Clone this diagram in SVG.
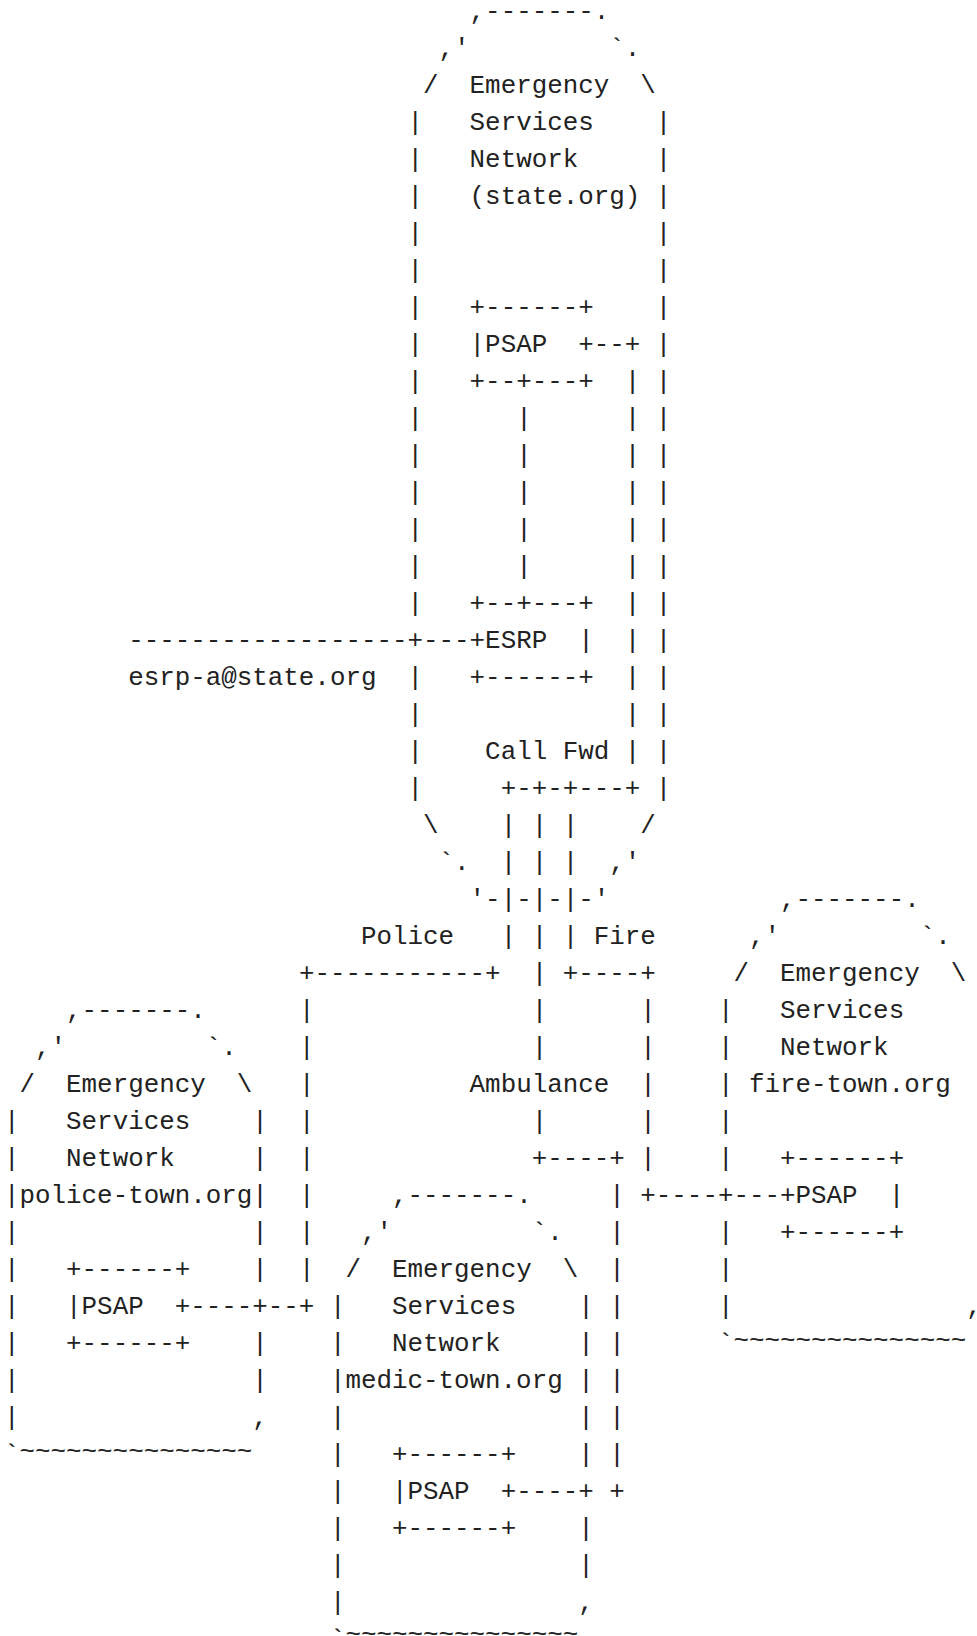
<svg xmlns="http://www.w3.org/2000/svg" width="977" height="1636" viewBox="0 0 977 1636" xml:space="preserve">
  <style>
    /* one monospace grid: column c starts at x = 4 + 15.52*c, row n baseline at 18.5 + 37*(n-1) */
    text { font-family: "Liberation Mono", "DejaVu Sans Mono", monospace; font-size: 25.87px; fill: #222; white-space: pre; }
    .tl { /* tilde rows sit a little higher */ }
  </style>
  <rect width="977" height="1636" fill="#fff"/>

  <!-- Emergency Services Network (state.org) -->
  <g id="net-state">
    <text x="469.6" y="18.5">,-------.</text>
    <text x="438.56" y="55.5">,'</text><text x="609.28" y="55.5">`.</text>
    <text x="423.04" y="92.5">/</text><text x="469.6" y="92.5">Emergency</text><text x="640.32" y="92.5">\</text>
    <text x="407.52" y="129.5">|</text><text x="469.6" y="129.5">Services</text><text x="655.84" y="129.5">|</text>
    <text x="407.52" y="166.5">|</text><text x="469.6" y="166.5">Network</text><text x="655.84" y="166.5">|</text>
    <text x="407.52" y="203.5">|</text><text x="469.6" y="203.5">(state.org)</text><text x="655.84" y="203.5">|</text>
    <text x="407.52" y="240.5">|</text><text x="655.84" y="240.5">|</text>
    <text x="407.52" y="277.5">|</text><text x="655.84" y="277.5">|</text>
    <text x="407.52" y="314.5">|</text><text x="655.84" y="314.5">|</text>
    <text x="407.52" y="351.5">|</text><text x="655.84" y="351.5">|</text>
    <text x="407.52" y="388.5">|</text><text x="655.84" y="388.5">|</text>
    <text x="407.52" y="425.5">|</text><text x="655.84" y="425.5">|</text>
    <text x="407.52" y="462.5">|</text><text x="655.84" y="462.5">|</text>
    <text x="407.52" y="499.5">|</text><text x="655.84" y="499.5">|</text>
    <text x="407.52" y="536.5">|</text><text x="655.84" y="536.5">|</text>
    <text x="407.52" y="573.5">|</text><text x="655.84" y="573.5">|</text>
    <text x="407.52" y="610.5">|</text><text x="655.84" y="610.5">|</text>
    <text x="655.84" y="647.5">|</text>
    <text x="407.52" y="684.5">|</text><text x="655.84" y="684.5">|</text>
    <text x="407.52" y="721.5">|</text><text x="655.84" y="721.5">|</text>
    <text x="407.52" y="758.5">|</text><text x="655.84" y="758.5">|</text>
    <text x="407.52" y="795.5">|</text><text x="655.84" y="795.5">|</text>
    <text x="423.04" y="832.5">\</text><text x="640.32" y="832.5">/</text>
    <text x="438.56" y="869.5">`.</text><text x="609.28" y="869.5">,'</text>
    <text x="469.6" y="906.5">'-</text><text x="516.16" y="906.5">-</text><text x="547.2" y="906.5">-</text><text x="578.24" y="906.5">-'</text>
  </g>

  <!-- PSAP in state.org -->
  <g id="psap-state">
    <text x="469.6" y="314.5">+------+</text>
    <text x="469.6" y="351.5">|PSAP  +</text>
    <text x="469.6" y="388.5">+--+---+</text>
  </g>

  <!-- ESRP -->
  <g id="esrp">
    <text x="469.6" y="610.5">+--+---+</text>
    <text x="469.6" y="647.5">+ESRP  |</text>
    <text x="469.6" y="684.5">+------+</text>
  </g>

  <!-- Emergency Services Network police-town.org -->
  <g id="net-police">
    <text x="66.08" y="1017.5">,-------.</text>
    <text x="35.04" y="1054.5">,'</text><text x="205.76" y="1054.5">`.</text>
    <text x="19.52" y="1091.5">/</text><text x="66.08" y="1091.5">Emergency</text><text x="236.8" y="1091.5">\</text>
    <text x="4" y="1128.5">|</text><text x="66.08" y="1128.5">Services</text><text x="252.32" y="1128.5">|</text>
    <text x="4" y="1165.5">|</text><text x="66.08" y="1165.5">Network</text><text x="252.32" y="1165.5">|</text>
    <text x="4" y="1202.5">|police-town.org|</text>
    <text x="4" y="1239.5">|</text><text x="252.32" y="1239.5">|</text>
    <text x="4" y="1276.5">|</text><text x="252.32" y="1276.5">|</text>
    <text x="4" y="1313.5">|</text>
    <text x="4" y="1350.5">|</text><text x="252.32" y="1350.5">|</text>
    <text x="4" y="1387.5">|</text><text x="252.32" y="1387.5">|</text>
    <text x="4" y="1424.5">|</text><text x="252.32" y="1424.5">,</text>
    <text x="4" y="1461.5">`</text><text x="19.52" y="1458.5">~~~~~~~~~~~~~~~</text>
  </g>

  <!-- PSAP in police-town.org -->
  <g id="psap-police">
    <text x="66.08" y="1276.5">+------+</text>
    <text x="66.08" y="1313.5">|PSAP  +</text>
    <text x="66.08" y="1350.5">+------+</text>
  </g>

  <!-- Emergency Services Network fire-town.org -->
  <g id="net-fire">
    <text x="780" y="906.5">,-------.</text>
    <text x="748.96" y="943.5">,'</text><text x="919.68" y="943.5">`.</text>
    <text x="733.44" y="980.5">/</text><text x="780" y="980.5">Emergency</text><text x="950.72" y="980.5">\</text>
    <text x="717.92" y="1017.5">|</text><text x="780" y="1017.5">Services</text>
    <text x="717.92" y="1054.5">|</text><text x="780" y="1054.5">Network</text>
    <text x="717.92" y="1091.5">|</text><text x="748.96" y="1091.5">fire-town.org</text>
    <text x="717.92" y="1128.5">|</text>
    <text x="717.92" y="1165.5">|</text>
    <text x="717.92" y="1239.5">|</text>
    <text x="717.92" y="1276.5">|</text>
    <text x="717.92" y="1313.5">|</text><text x="966.24" y="1313.5">,</text>
    <text x="717.92" y="1350.5">`</text><text x="733.44" y="1347.5">~~~~~~~~~~~~~~~</text>
  </g>

  <!-- PSAP in fire-town.org -->
  <g id="psap-fire">
    <text x="780" y="1165.5">+------+</text>
    <text x="780" y="1202.5">+PSAP  |</text>
    <text x="780" y="1239.5">+------+</text>
  </g>

  <!-- Emergency Services Network medic-town.org -->
  <g id="net-medic">
    <text x="392" y="1202.5">,-------.</text>
    <text x="360.96" y="1239.5">,'</text><text x="531.68" y="1239.5">`.</text>
    <text x="345.44" y="1276.5">/</text><text x="392" y="1276.5">Emergency</text><text x="562.72" y="1276.5">\</text>
    <text x="329.92" y="1313.5">|</text><text x="392" y="1313.5">Services</text><text x="578.24" y="1313.5">|</text>
    <text x="329.92" y="1350.5">|</text><text x="392" y="1350.5">Network</text><text x="578.24" y="1350.5">|</text>
    <text x="329.92" y="1387.5">|medic-town.org |</text>
    <text x="329.92" y="1424.5">|</text><text x="578.24" y="1424.5">|</text>
    <text x="329.92" y="1461.5">|</text><text x="578.24" y="1461.5">|</text>
    <text x="329.92" y="1498.5">|</text>
    <text x="329.92" y="1535.5">|</text><text x="578.24" y="1535.5">|</text>
    <text x="329.92" y="1572.5">|</text><text x="578.24" y="1572.5">|</text>
    <text x="329.92" y="1609.5">|</text><text x="578.24" y="1609.5">,</text>
    <text x="329.92" y="1646.5">`</text><text x="345.44" y="1641.5">~~~~~~~~~~~~~~~</text>
  </g>

  <!-- PSAP in medic-town.org -->
  <g id="psap-medic">
    <text x="392" y="1461.5">+------+</text>
    <text x="392" y="1498.5">|PSAP  +</text>
    <text x="392" y="1535.5">+------+</text>
  </g>

  <!-- connectors and their labels -->
  <g id="connectors">
    <!-- PSAP (state.org) to the call forwarding bundle -->
    <text x="593.76" y="351.5">--+</text>
    <text x="624.8" y="388.5">|</text>
    <text x="624.8" y="425.5">|</text>
    <text x="624.8" y="462.5">|</text>
    <text x="624.8" y="499.5">|</text>
    <text x="624.8" y="536.5">|</text>
    <text x="624.8" y="573.5">|</text>
    <text x="624.8" y="610.5">|</text>
    <text x="624.8" y="647.5">|</text>
    <text x="624.8" y="684.5">|</text>
    <text x="624.8" y="721.5">|</text>
    <text x="624.8" y="758.5">|</text>
    <!-- PSAP to ESRP -->
    <text x="516.16" y="425.5">|</text>
    <text x="516.16" y="462.5">|</text>
    <text x="516.16" y="499.5">|</text>
    <text x="516.16" y="536.5">|</text>
    <text x="516.16" y="573.5">|</text>
    <!-- incoming line to ESRP -->
    <text x="128.16" y="647.5">------------------+---</text>
    <text x="128.16" y="684.5">esrp-a@state.org</text>
    <!-- ESRP call forwarding -->
    <text x="485.12" y="758.5">Call Fwd</text>
    <text x="500.64" y="795.5">+-+-+---+</text>
    <text x="500.64" y="832.5">| | |</text>
    <text x="500.64" y="869.5">| | |</text>
    <text x="500.64" y="906.5">|</text><text x="531.68" y="906.5">|</text><text x="562.72" y="906.5">|</text>
    <text x="360.96" y="943.5">Police</text>
    <text x="500.64" y="943.5">| | |</text>
    <text x="593.76" y="943.5">Fire</text>
    <text x="298.88" y="980.5">+-----------+</text>
    <text x="531.68" y="980.5">|</text>
    <text x="562.72" y="980.5">+----+</text>
    <!-- branch downwards -->
    <text x="298.88" y="1017.5">|</text><text x="531.68" y="1017.5">|</text><text x="640.32" y="1017.5">|</text>
    <text x="298.88" y="1054.5">|</text><text x="531.68" y="1054.5">|</text><text x="640.32" y="1054.5">|</text>
    <text x="298.88" y="1091.5">|</text><text x="469.6" y="1091.5">Ambulance</text><text x="640.32" y="1091.5">|</text>
    <text x="298.88" y="1128.5">|</text><text x="531.68" y="1128.5">|</text><text x="640.32" y="1128.5">|</text>
    <text x="298.88" y="1165.5">|</text><text x="531.68" y="1165.5">+----+</text><text x="640.32" y="1165.5">|</text>
    <text x="298.88" y="1202.5">|</text><text x="609.28" y="1202.5">|</text><text x="640.32" y="1202.5">+----+---</text>
    <text x="298.88" y="1239.5">|</text><text x="609.28" y="1239.5">|</text>
    <text x="298.88" y="1276.5">|</text><text x="609.28" y="1276.5">|</text>
    <text x="190.24" y="1313.5">----+--+</text><text x="609.28" y="1313.5">|</text>
    <text x="609.28" y="1350.5">|</text>
    <text x="609.28" y="1387.5">|</text>
    <text x="609.28" y="1424.5">|</text>
    <text x="609.28" y="1461.5">|</text>
    <text x="516.16" y="1498.5">----+ +</text>
  </g>
</svg>
